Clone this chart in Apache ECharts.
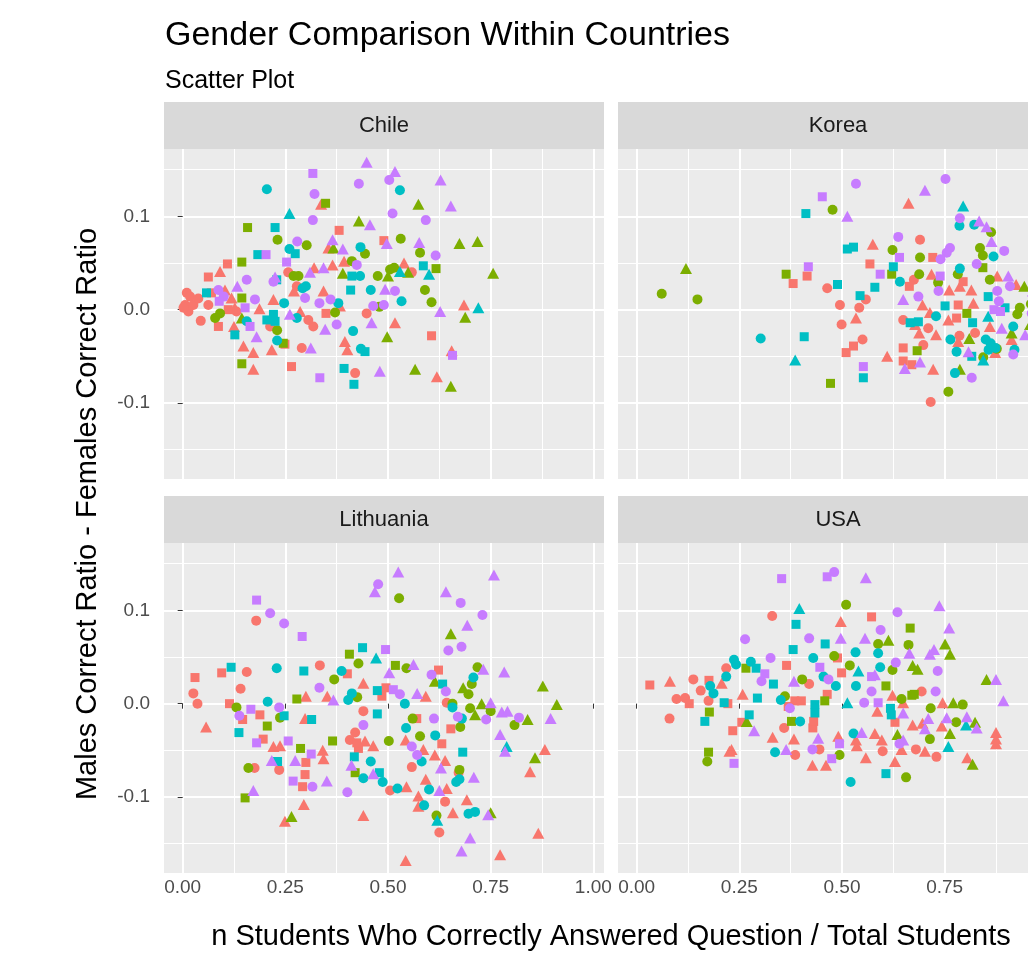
<!DOCTYPE html>
<html>
<head>
<meta charset="utf-8">
<script src="https://cdn.jsdelivr.net/npm/echarts@6/dist/echarts.min.js"></script>
<style>
  html, body { margin: 0; padding: 0; background: #fff; }
  #chart { width: 1028px; height: 955px; }
</style>
</head>
<body>
<div id="chart"></div>
<script>
// facet names
const countries = ['Chile', 'Korea', 'Lithuania', 'USA'];

// ticks
const xMajor = [0, 0.25, 0.5, 0.75, 1];
const xMinor = [0.125, 0.375, 0.625, 0.875];
const yMajor = [-0.1, 0, 0.1];
const yMinor = [-0.15, -0.05, 0.05, 0.15];

// points: [x, y, colour+shape]  colour r/g/b/p, shape c=circle t=triangle s=square
const chile = [
  [0.448,0.158,'pt'],[0.317,0.146,'ps'],[0.205,0.129,'bc'],[0.429,0.135,'pc'],[0.517,0.148,'pt'],[0.503,0.139,'pc'],
  [0.529,0.128,'bc'],[0.628,0.139,'pt'],[0.321,0.124,'pc'],[0.337,0.113,'rt'],[0.348,0.114,'gs'],[0.574,0.113,'gt'],
  [0.653,0.111,'pt'],[0.26,0.103,'bt'],[0.317,0.096,'pc'],[0.429,0.095,'gt'],[0.456,0.091,'pt'],[0.511,0.103,'pc'],
  [0.592,0.096,'pc'],[0.158,0.088,'gs'],[0.225,0.088,'bs'],[0.381,0.085,'rs'],[0.231,0.075,'gc'],[0.279,0.073,'pc'],
  [0.302,0.069,'gc'],[0.49,0.074,'rs'],[0.497,0.071,'pt'],[0.531,0.076,'gc'],[0.576,0.072,'pt'],[0.674,0.071,'gt'],
  [0.718,0.073,'gt'],[0.26,0.065,'bc'],[0.274,0.06,'bs'],[0.355,0.066,'rt'],[0.365,0.075,'pt'],[0.367,0.066,'gt'],
  [0.39,0.065,'pt'],[0.433,0.067,'bc'],[0.444,0.06,'gc'],[0.578,0.061,'gc'],[0.616,0.058,'pc'],[0.183,0.059,'bs'],
  [0.203,0.059,'ps'],[0.144,0.051,'gs'],[0.253,0.051,'ps'],[0.109,0.049,'rs'],[0.091,0.041,'rt'],[0.0625,0.035,'rs'],
  [0.32,0.045,'rt'],[0.31,0.04,'pt'],[0.343,0.045,'pt'],[0.365,0.048,'rt'],[0.393,0.052,'rt'],[0.412,0.052,'gc'],
  [0.424,0.048,'pc'],[0.257,0.04,'rc'],[0.27,0.036,'gc'],[0.282,0.036,'gc'],[0.39,0.039,'gt'],[0.412,0.036,'bs'],
  [0.432,0.036,'bc'],[0.475,0.036,'gc'],[0.5,0.036,'gt'],[0.505,0.043,'gc'],[0.515,0.045,'gc'],[0.539,0.05,'rt'],
  [0.529,0.041,'bt'],[0.549,0.04,'gt'],[0.558,0.04,'rc'],[0.586,0.047,'bs'],[0.6,0.038,'bt'],[0.617,0.044,'gs'],
  [0.756,0.039,'gt'],[0.156,0.032,'pc'],[0.058,0.018,'bs'],[0.01,0.018,'rc'],[0.018,0.014,'rc'],[0.006,0.005,'rc'],
  [0.026,0.005,'rc'],[0.038,0.012,'rc'],[0.014,-0.002,'rc'],[0.002,0.002,'rc'],[0.044,-0.012,'rc'],[0.0625,0.005,'rc'],
  [0.087,0.021,'pc'],[0.1,0.014,'pc'],[0.089,0.009,'ps'],[0.103,0.021,'rt'],[0.119,0.0125,'rt'],[0.133,0.025,'pt'],
  [0.144,0.0125,'gs'],[0.127,0.002,'rt'],[0.152,0.002,'ps'],[0.176,0.011,'pc'],[0.187,0.001,'rt'],[0.221,0.03,'pc'],
  [0.225,0.035,'pt'],[0.229,0.032,'bs'],[0.221,0.011,'rt'],[0.247,0.007,'bc'],[0.271,0.02,'rt'],[0.278,0.025,'rc'],
  [0.292,0.023,'bc'],[0.3,0.025,'bc'],[0.298,0.0125,'pc'],[0.343,0.02,'rt'],[0.333,0.007,'pc'],[0.36,0.011,'pc'],
  [0.379,0.007,'bc'],[0.349,-0.004,'rs'],[0.371,-0.003,'gc'],[0.383,0.004,'rt'],[0.409,0.021,'bs'],[0.458,0.021,'bc'],
  [0.493,0.022,'pt'],[0.517,0.02,'pc'],[0.533,0.009,'bc'],[0.464,0.004,'pc'],[0.479,0.003,'gc'],[0.49,0.005,'pc'],
  [0.448,-0.004,'rc'],[0.59,0.021,'gc'],[0.606,0.008,'gc'],[0.627,-0.002,'pt'],[0.685,0.005,'rt'],[0.72,0.002,'bt'],
  [0.688,-0.008,'gt'],[0.46,-0.014,'pt'],[0.517,-0.014,'rt'],[0.498,-0.029,'gt'],[0.606,-0.028,'rs'],[0.657,-0.049,'ps'],
  [0.655,-0.044,'rt'],[0.566,-0.064,'gt'],[0.619,-0.072,'rt'],[0.653,-0.082,'gt'],[0.48,-0.066,'pt'],[0.42,-0.068,'rc'],
  [0.393,-0.063,'bs'],[0.417,-0.08,'bs'],[0.334,-0.073,'ps'],[0.265,-0.061,'rs'],[0.144,-0.058,'gs'],[0.172,-0.064,'rt'],
  [0.148,-0.039,'rt'],[0.172,-0.046,'rt'],[0.217,-0.043,'rt'],[0.29,-0.041,'rc'],[0.312,-0.041,'pt'],[0.245,-0.036,'gs'],
  [0.249,-0.037,'rs'],[0.23,-0.033,'bc'],[0.23,-0.022,'gc'],[0.395,-0.034,'rt'],[0.401,-0.043,'rt'],[0.434,-0.042,'bc'],
  [0.444,-0.045,'bs'],[0.415,-0.023,'bc'],[0.347,-0.021,'pt'],[0.375,-0.016,'pc'],[0.318,-0.018,'rc'],[0.286,-0.002,'rt'],
  [0.278,-0.009,'bc'],[0.261,-0.005,'pt'],[0.306,-0.011,'rc'],[0.221,-0.005,'bs'],[0.205,-0.011,'bs'],[0.225,-0.0125,'bs'],
  [0.213,-0.018,'rc'],[0.18,-0.029,'pt'],[0.164,-0.018,'ps'],[0.156,-0.0125,'bc'],[0.127,-0.027,'bs'],[0.125,-0.018,'rt'],
  [0.087,-0.018,'rs'],[0.079,-0.009,'gc'],[0.091,-0.004,'gc'],[0.144,-0.009,'gt'],[0.131,-0.002,'rc'],[0.111,0.0,'rs'],
  [0.07,0.018,'rs']
];

const korea = [
  [0.061,0.017,'gc'],[0.12,0.044,'gt'],[0.148,0.011,'gc'],[0.302,-0.031,'bc'],[0.408,-0.029,'bs'],[0.386,-0.054,'bt'],
  [0.472,-0.079,'gs'],[0.552,-0.061,'ps'],[0.552,-0.073,'bs'],[0.412,0.103,'bs'],[0.452,0.121,'ps'],[0.477,0.107,'gc'],
  [0.534,0.135,'pc'],[0.513,0.1,'pt'],[0.662,0.114,'rt'],[0.702,0.128,'pt'],[0.752,0.14,'pc'],[0.795,0.111,'bt'],
  [0.787,0.098,'pc'],[0.786,0.09,'bc'],[0.822,0.091,'bc'],[0.834,0.095,'pt'],[0.852,0.089,'pt'],[0.863,0.083,'gc'],
  [0.864,0.073,'pt'],[0.895,0.063,'pc'],[0.836,0.066,'gc'],[0.843,0.058,'gc'],[0.869,0.057,'bc'],[0.513,0.065,'bs'],
  [0.528,0.067,'bs'],[0.575,0.07,'rt'],[0.637,0.078,'pc'],[0.69,0.075,'rc'],[0.623,0.064,'gc'],[0.64,0.056,'ps'],
  [0.69,0.056,'gc'],[0.721,0.056,'rs'],[0.763,0.066,'pc'],[0.755,0.061,'pc'],[0.74,0.054,'pc'],[0.828,0.049,'pc'],
  [0.843,0.045,'gs'],[0.787,0.044,'bc'],[0.782,0.038,'gc'],[0.418,0.046,'ps'],[0.415,0.036,'rs'],[0.364,0.038,'gs'],
  [0.381,0.028,'rs'],[0.568,0.049,'rs'],[0.489,0.027,'bs'],[0.464,0.023,'rc'],[0.544,0.015,'bs'],[0.558,0.011,'rc'],
  [0.495,0.005,'rc'],[0.542,0.002,'rc'],[0.534,-0.009,'rt'],[0.499,-0.016,'rc'],[0.55,-0.032,'rc'],[0.528,-0.039,'rs'],
  [0.51,-0.046,'rs'],[0.58,0.024,'bs'],[0.593,0.038,'ps'],[0.621,0.038,'gs'],[0.625,0.046,'bs'],[0.641,0.03,'bc'],
  [0.664,0.025,'rs'],[0.675,0.032,'rc'],[0.688,0.038,'gc'],[0.686,0.014,'pc'],[0.649,0.011,'pt'],[0.696,0.005,'rt'],
  [0.714,-0.003,'rt'],[0.718,0.038,'rt'],[0.734,0.029,'gc'],[0.739,0.036,'ps'],[0.735,0.02,'pc'],[0.761,0.021,'rt'],
  [0.795,0.03,'rs'],[0.815,0.021,'rt'],[0.783,0.005,'rs'],[0.82,0.007,'rt'],[0.751,0.004,'bs'],[0.729,-0.007,'bc'],
  [0.759,-0.011,'rt'],[0.779,-0.009,'rs'],[0.804,-0.004,'gs'],[0.818,-0.014,'bs'],[0.824,-0.025,'rc'],[0.856,-0.007,'bt'],
  [0.87,0.0,'ps'],[0.882,0.009,'pc'],[0.886,-0.002,'ps'],[0.878,0.02,'pc'],[0.856,0.014,'bs'],[0.878,0.036,'rt'],
  [0.905,0.036,'pt'],[0.924,0.027,'rt'],[0.944,0.025,'gt'],[0.909,0.025,'pc'],[0.933,0.002,'gc'],[0.897,0.002,'bs'],
  [0.927,-0.005,'gc'],[0.86,-0.018,'rt'],[0.889,-0.02,'pt'],[0.917,-0.018,'bc'],[0.913,-0.025,'gt'],[0.946,-0.027,'pt'],
  [0.913,-0.032,'rt'],[0.92,-0.043,'bc'],[0.917,-0.048,'pc'],[0.85,-0.032,'bc'],[0.862,-0.036,'bc'],[0.874,-0.041,'bc'],
  [0.857,-0.043,'bc'],[0.877,-0.042,'gc'],[0.873,-0.046,'rt'],[0.844,-0.051,'gc'],[0.844,-0.054,'bt'],[0.808,-0.045,'pt'],
  [0.816,-0.05,'bs'],[0.81,-0.031,'gt'],[0.779,-0.045,'bc'],[0.764,-0.032,'bc'],[0.783,-0.034,'rt'],[0.787,-0.064,'gt'],
  [0.775,-0.068,'bc'],[0.816,-0.073,'pc'],[0.759,-0.088,'gc'],[0.716,-0.099,'rc'],[0.722,-0.064,'rt'],[0.69,-0.056,'pt'],
  [0.67,-0.059,'rs'],[0.649,-0.055,'rs'],[0.653,-0.063,'pt'],[0.649,-0.041,'rs'],[0.683,-0.044,'gs'],[0.698,-0.038,'rc'],
  [0.61,-0.05,'rt'],[0.688,-0.025,'rt'],[0.729,-0.027,'rt'],[0.71,-0.02,'rc'],[0.666,-0.014,'bs'],[0.686,-0.013,'bs'],
  [0.649,-0.011,'rc'],[0.678,-0.016,'rt'],[0.786,-0.028,'rc'],[0.787,0.025,'rt'],[0.86,0.032,'gc'],[0.96,0.006,'gc'],
  [0.962,-0.004,'pc'],[0.958,-0.016,'gt'],[0.965,0.02,'pt']
];

const lithuania = [
  [0.525,0.141,'pt'],[0.758,0.138,'pt'],[0.468,0.12,'pt'],[0.476,0.128,'pc'],[0.527,0.113,'gc'],[0.641,0.12,'pt'],
  [0.677,0.108,'pc'],[0.18,0.111,'ps'],[0.213,0.097,'pc'],[0.179,0.089,'rc'],[0.247,0.086,'pc'],[0.73,0.095,'pc'],
  [0.693,0.084,'pt'],[0.653,0.075,'gt'],[0.291,0.072,'ps'],[0.647,0.057,'pc'],[0.679,0.061,'pc'],[0.438,0.06,'bs'],
  [0.494,0.058,'ps'],[0.406,0.053,'gs'],[0.471,0.049,'bt'],[0.428,0.043,'gc'],[0.518,0.041,'gs'],[0.545,0.038,'gc'],
  [0.562,0.042,'pt'],[0.623,0.036,'rs'],[0.606,0.031,'pc'],[0.718,0.039,'gc'],[0.732,0.037,'pt'],[0.783,0.034,'pt'],
  [0.03,0.028,'rs'],[0.095,0.033,'rs'],[0.118,0.039,'bs'],[0.156,0.034,'rc'],[0.229,0.038,'bc'],[0.295,0.035,'bs'],
  [0.334,0.041,'rc'],[0.387,0.035,'bc'],[0.401,0.032,'rs'],[0.369,0.026,'gc'],[0.44,0.022,'rt'],[0.474,0.014,'bs'],
  [0.495,0.017,'rs'],[0.485,0.008,'rs'],[0.503,0.033,'pt'],[0.513,0.015,'ps'],[0.529,0.01,'pc'],[0.541,0.0,'bc'],
  [0.571,0.011,'pt'],[0.592,0.008,'rt'],[0.614,0.024,'gt'],[0.633,0.021,'bs'],[0.641,0.013,'pc'],[0.643,0.001,'rc'],
  [0.657,0.0,'gc'],[0.657,-0.004,'bc'],[0.683,0.017,'gt'],[0.696,0.01,'gc'],[0.708,0.028,'bc'],[0.704,0.021,'gc'],
  [0.728,0.0,'gt'],[0.7,-0.005,'gc'],[0.712,-0.012,'gt'],[0.75,0.001,'pt'],[0.75,-0.008,'gc'],[0.739,-0.017,'pc'],
  [0.777,-0.009,'pt'],[0.791,-0.008,'pt'],[0.819,-0.015,'pc'],[0.808,-0.023,'gc'],[0.84,-0.017,'gt'],[0.877,0.019,'gt'],
  [0.911,-0.001,'gt'],[0.896,-0.016,'pt'],[0.773,-0.033,'pt'],[0.789,-0.046,'bt'],[0.785,-0.051,'pt'],[0.882,-0.049,'rt'],
  [0.858,-0.058,'gt'],[0.846,-0.073,'rt'],[0.866,-0.139,'rt'],[0.773,-0.162,'rt'],[0.543,-0.168,'rt'],[0.7,-0.144,'pt'],
  [0.679,-0.158,'pt'],[0.625,-0.138,'rc'],[0.639,-0.105,'rc'],[0.658,-0.117,'rt'],[0.692,-0.103,'rt'],[0.696,-0.118,'bc'],
  [0.712,-0.116,'bc'],[0.744,-0.119,'pt'],[0.75,-0.117,'gt'],[0.62,-0.125,'bt'],[0.618,-0.12,'gc'],[0.574,-0.11,'rt'],
  [0.588,-0.109,'bc'],[0.574,-0.099,'rt'],[0.6,-0.092,'bc'],[0.625,-0.093,'pt'],[0.643,-0.091,'rt'],[0.592,-0.081,'rt'],
  [0.666,-0.084,'bc'],[0.674,-0.081,'bc'],[0.709,-0.079,'pt'],[0.674,-0.071,'gc'],[0.672,-0.074,'rc'],[0.629,-0.069,'pt'],
  [0.639,-0.061,'rt'],[0.614,-0.055,'rt'],[0.582,-0.062,'bc'],[0.571,-0.055,'pc'],[0.558,-0.068,'rc'],[0.586,-0.049,'rt'],
  [0.558,-0.046,'pc'],[0.631,-0.043,'rs'],[0.615,-0.034,'bc'],[0.578,-0.035,'gc'],[0.544,-0.026,'bc'],[0.543,-0.039,'rt'],
  [0.653,-0.027,'rs'],[0.682,-0.052,'bs'],[0.67,-0.014,'pc'],[0.68,-0.016,'bc'],[0.676,-0.025,'gc'],[0.57,-0.016,'rs'],
  [0.56,-0.016,'gc'],[0.612,-0.016,'pc'],[0.545,-0.089,'rt'],[0.523,-0.091,'bc'],[0.505,-0.093,'rc'],[0.487,-0.084,'bc'],
  [0.479,-0.074,'bs'],[0.464,-0.075,'pt'],[0.458,-0.062,'bc'],[0.44,-0.08,'bc'],[0.44,-0.12,'rt'],[0.401,-0.095,'pc'],
  [0.411,-0.066,'pt'],[0.418,-0.057,'bs'],[0.42,-0.074,'gs'],[0.407,-0.039,'rc'],[0.42,-0.031,'rc'],[0.44,-0.008,'rc'],
  [0.428,-0.048,'rs'],[0.424,-0.042,'rs'],[0.444,-0.04,'rt'],[0.464,-0.045,'rt'],[0.44,-0.023,'pc'],[0.474,-0.011,'bs'],
  [0.502,-0.04,'gc'],[0.403,0.004,'bc'],[0.412,0.011,'bc'],[0.425,0.007,'gc'],[0.333,0.017,'pc'],[0.352,0.008,'rt'],
  [0.367,0.004,'pt'],[0.207,0.002,'bc'],[0.278,0.005,'gs'],[0.3,0.008,'rt'],[0.235,-0.004,'pc'],[0.247,-0.013,'bs'],
  [0.237,-0.015,'gc'],[0.298,-0.016,'rt'],[0.314,-0.017,'bs'],[0.114,0.0,'rs'],[0.131,-0.004,'gc'],[0.166,-0.006,'ps'],
  [0.138,-0.013,'pc'],[0.146,-0.017,'rs'],[0.188,-0.012,'rs'],[0.026,0.011,'rc'],[0.036,0.0,'rc'],[0.141,0.016,'rc'],
  [0.057,-0.025,'rt'],[0.137,-0.031,'bs'],[0.206,-0.024,'gs'],[0.196,-0.038,'rs'],[0.18,-0.042,'ps'],[0.221,-0.046,'rt'],
  [0.237,-0.045,'rt'],[0.257,-0.04,'ps'],[0.287,-0.048,'gs'],[0.313,-0.054,'ps'],[0.341,-0.05,'rt'],[0.343,-0.059,'rt'],
  [0.365,-0.04,'gs'],[0.3,-0.063,'rs'],[0.298,-0.076,'rs'],[0.292,-0.089,'rs'],[0.316,-0.089,'pc'],[0.269,-0.083,'ps'],
  [0.351,-0.083,'pt'],[0.274,-0.061,'pt'],[0.217,-0.061,'pt'],[0.231,-0.062,'bs'],[0.235,-0.071,'rc'],[0.16,-0.069,'gc'],
  [0.175,-0.069,'rc'],[0.172,-0.093,'pt'],[0.152,-0.101,'gs'],[0.295,-0.108,'rt'],[0.249,-0.126,'rt'],[0.265,-0.121,'gt']
];

const usa = [
  [0.353,0.134,'ps'],[0.464,0.136,'ps'],[0.481,0.141,'pc'],[0.558,0.135,'pt'],[0.51,0.106,'gc'],[0.737,0.105,'pt'],
  [0.396,0.102,'bt'],[0.33,0.094,'rc'],[0.388,0.085,'bs'],[0.497,0.088,'rt'],[0.572,0.093,'rs'],[0.635,0.098,'pc'],
  [0.666,0.081,'gs'],[0.761,0.081,'pt'],[0.594,0.079,'pc'],[0.264,0.069,'pc'],[0.42,0.07,'pc'],[0.497,0.07,'pt'],
  [0.556,0.07,'pt'],[0.588,0.064,'gc'],[0.613,0.068,'gt'],[0.662,0.063,'gc'],[0.751,0.064,'gt'],[0.763,0.053,'gt'],
  [0.459,0.064,'bs'],[0.381,0.058,'bs'],[0.43,0.049,'bc'],[0.481,0.051,'gc'],[0.489,0.049,'rs'],[0.533,0.055,'bc'],
  [0.588,0.054,'bc'],[0.664,0.054,'pt'],[0.714,0.053,'pt'],[0.724,0.058,'pt'],[0.631,0.044,'pc'],[0.326,0.049,'pc'],
  [0.237,0.047,'bc'],[0.242,0.042,'bc'],[0.278,0.045,'bc'],[0.266,0.038,'gs'],[0.291,0.038,'bs'],[0.218,0.038,'rc'],
  [0.365,0.041,'rs'],[0.446,0.039,'ps'],[0.519,0.041,'gc'],[0.54,0.035,'bt'],[0.593,0.039,'bc'],[0.623,0.036,'gc'],
  [0.672,0.041,'gt'],[0.684,0.037,'gt'],[0.733,0.035,'pc'],[0.312,0.032,'ps'],[0.304,0.024,'pc'],[0.333,0.021,'bs'],
  [0.499,0.033,'rs'],[0.455,0.029,'bc'],[0.467,0.026,'pc'],[0.572,0.029,'ps'],[0.58,0.031,'pt'],[0.403,0.026,'gc'],
  [0.383,0.024,'pt'],[0.42,0.021,'rc'],[0.485,0.019,'bc'],[0.534,0.019,'bc'],[0.607,0.019,'gs'],[0.572,0.013,'pc'],
  [0.694,0.013,'rc'],[0.728,0.013,'pc'],[0.852,0.026,'gt'],[0.875,0.026,'pt'],[0.893,0.003,'pt'],[0.645,0.005,'gc'],
  [0.67,0.009,'gs'],[0.676,0.01,'gs'],[0.623,0.009,'rt'],[0.649,0.001,'rt'],[0.745,0.001,'rt'],[0.771,0.001,'gt'],
  [0.794,-0.001,'gc'],[0.716,-0.005,'gc'],[0.081,0.024,'rt'],[0.032,0.02,'rs'],[0.138,0.026,'rc'],[0.176,0.025,'rs'],
  [0.097,0.005,'rc'],[0.118,0.006,'rc'],[0.128,0.0,'rs'],[0.156,0.014,'rc'],[0.179,0.019,'bc'],[0.187,0.011,'bc'],
  [0.175,0.003,'rc'],[0.218,0.029,'bc'],[0.207,0.022,'rt'],[0.258,0.01,'rt'],[0.213,0.001,'bs'],[0.222,0.0,'rs'],
  [0.294,0.006,'bs'],[0.08,-0.016,'rc'],[0.177,-0.009,'gs'],[0.166,-0.019,'bs'],[0.274,-0.012,'bs'],[0.268,-0.019,'gt'],
  [0.256,-0.02,'rs'],[0.234,-0.029,'rs'],[0.286,-0.029,'pt'],[0.331,-0.036,'rt'],[0.383,-0.038,'rt'],[0.351,0.004,'bc'],
  [0.361,0.008,'gc'],[0.369,-0.003,'rs'],[0.385,0.003,'rs'],[0.401,0.003,'rs'],[0.373,-0.005,'pc'],[0.377,-0.019,'gs'],
  [0.398,-0.019,'bc'],[0.359,-0.026,'rc'],[0.386,-0.055,'rc'],[0.337,-0.052,'bc'],[0.364,-0.049,'pt'],[0.226,-0.051,'rt'],
  [0.231,-0.049,'rt'],[0.175,-0.052,'gs'],[0.172,-0.062,'gc'],[0.237,-0.064,'ps'],[0.434,-0.001,'bs'],[0.434,-0.01,'bs'],
  [0.429,-0.026,'rs'],[0.431,-0.019,'rs'],[0.442,-0.037,'pt'],[0.445,-0.049,'rc'],[0.428,-0.049,'pc'],[0.428,-0.066,'rt'],
  [0.461,-0.066,'rt'],[0.475,-0.059,'ps'],[0.494,-0.055,'gc'],[0.491,-0.035,'rt'],[0.494,-0.043,'ps'],[0.464,0.01,'rs'],
  [0.458,0.003,'gs'],[0.513,0.001,'bt'],[0.528,-0.032,'bc'],[0.548,-0.031,'pt'],[0.534,-0.039,'rt'],[0.536,-0.045,'rt'],
  [0.58,-0.032,'rt'],[0.597,-0.039,'rt'],[0.599,-0.051,'rc'],[0.558,-0.058,'rt'],[0.521,-0.084,'bc'],[0.554,0.001,'pc'],
  [0.588,0.001,'ps'],[0.586,-0.008,'rt'],[0.618,-0.005,'bs'],[0.62,-0.012,'bs'],[0.629,-0.02,'rs'],[0.649,-0.01,'pt'],
  [0.635,-0.033,'gt'],[0.649,-0.039,'pt'],[0.64,-0.043,'pc'],[0.645,-0.049,'rt'],[0.629,-0.062,'rt'],[0.607,-0.075,'bs'],
  [0.656,-0.079,'gc'],[0.672,-0.023,'rt'],[0.696,-0.021,'rt'],[0.702,-0.027,'pt'],[0.71,-0.016,'pt'],[0.714,-0.038,'gc'],
  [0.68,-0.049,'rc'],[0.702,-0.051,'rt'],[0.73,-0.057,'rc'],[0.743,-0.024,'rt'],[0.763,-0.032,'gt'],[0.759,-0.046,'bt'],
  [0.755,-0.015,'pt'],[0.778,-0.02,'gc'],[0.804,-0.014,'pt'],[0.802,-0.023,'bt'],[0.824,-0.02,'gt'],[0.828,-0.026,'pt'],
  [0.875,-0.031,'rt'],[0.875,-0.038,'rt'],[0.875,-0.043,'rt'],[0.805,-0.058,'rt'],[0.818,-0.065,'gt']
];

const pointsByCountry = [chile, korea, lithuania, usa];

const colours = { r: '#F8766D', g: '#7CAE00', b: '#00BFC4', p: '#C77CFF' };
const shapes = { c: 'circle', t: 'triangle', s: 'rect' };
const shapeSize = { c: 10, t: [12, 11], s: 9 };

// panel layout (pixels); the right column runs past the page edge
const X_MIN = -0.0455, X_MAX = 1.026;
const Y_MIN = -0.1815, Y_MAX = 0.1722;
const panelW = 440, panelH = 330;
const panelPos = [[164, 149], [618, 149], [164, 543], [618, 543]];
const stripH = 47;

const tickColor = '#333333';
const labelColor = '#4D4D4D';
const font = 'Liberation Sans';

const grids = panelPos.map(([l, t]) => ({
  left: l, top: t, width: panelW, height: panelH,
  outerBoundsMode: 'none', containLabel: false,
  show: true, backgroundColor: '#EBEBEB', borderWidth: 0
}));

const xAxes = [];
const yAxes = [];
panelPos.forEach((pos, i) => {
  const bottomRow = i >= 2;
  const leftCol = i % 2 === 0;
  xAxes.push({
    type: 'value', gridIndex: i, min: X_MIN, max: X_MAX, position: 'bottom',
    axisLine: { show: false },
    axisTick: { show: bottomRow, length: 5, customValues: xMajor, lineStyle: { color: tickColor, width: 1 } },
    axisLabel: {
      show: bottomRow, customValues: xMajor, margin: 5, hideOverlap: false,
      formatter: (v) => v.toFixed(2), color: labelColor, fontSize: 19, fontFamily: font
    },
    splitLine: { show: true, lineStyle: { color: '#FFFFFF', width: 2 } }
  });
  xAxes.push({
    type: 'value', gridIndex: i, min: X_MIN, max: X_MAX, position: 'bottom',
    axisLine: { show: false },
    axisTick: { show: false, customValues: xMinor },
    axisLabel: { show: false, customValues: xMinor },
    splitLine: { show: true, lineStyle: { color: '#FFFFFF', width: 1 } }
  });
  yAxes.push({
    type: 'value', gridIndex: i, min: Y_MIN, max: Y_MAX, position: 'left',
    axisLine: { show: false },
    axisTick: { show: leftCol, length: 5, customValues: yMajor, lineStyle: { color: tickColor, width: 1 } },
    axisLabel: {
      show: leftCol, customValues: yMajor, margin: 14,
      formatter: (v) => v.toFixed(1), color: labelColor, fontSize: 19, fontFamily: font
    },
    splitLine: { show: true, lineStyle: { color: '#FFFFFF', width: 2 } }
  });
  yAxes.push({
    type: 'value', gridIndex: i, min: Y_MIN, max: Y_MAX, position: 'left',
    axisLine: { show: false },
    axisTick: { show: false, customValues: yMinor },
    axisLabel: { show: false, customValues: yMinor },
    splitLine: { show: true, lineStyle: { color: '#FFFFFF', width: 1 } }
  });
});

const series = [];
pointsByCountry.forEach((pts, i) => {
  Object.keys(colours).forEach((ck) => {
    Object.keys(shapes).forEach((sk) => {
      const data = pts.filter((p) => p[2] === ck + sk).map((p) => [p[0], p[1]]);
      if (!data.length) return;
      series.push({
        type: 'scatter', xAxisIndex: 2 * i, yAxisIndex: 2 * i,
        data: data, symbol: shapes[sk], symbolSize: shapeSize[sk],
        itemStyle: { color: colours[ck], opacity: 1 },
        emphasis: { disabled: true }
      });
    });
  });
});

// strips, titles
const graphics = [];
panelPos.forEach(([l, t], i) => {
  graphics.push({
    type: 'rect', shape: { x: l, y: t - stripH, width: panelW, height: stripH },
    style: { fill: '#D9D9D9' }, silent: true
  });
  graphics.push({
    type: 'text', x: l + panelW / 2, y: t - stripH / 2,
    style: { text: countries[i], fill: '#1A1A1A', font: '22px "Liberation Sans"', textAlign: 'center', textVerticalAlign: 'middle' },
    silent: true
  });
});
graphics.push({
  type: 'text', x: 165, y: 36,
  style: { text: 'Gender Comparison Within Countries', fill: '#000', font: '34px "Liberation Sans"', textAlign: 'left', textVerticalAlign: 'middle' }
});
graphics.push({
  type: 'text', x: 165, y: 81,
  style: { text: 'Scatter Plot', fill: '#000', font: '25px "Liberation Sans"', textAlign: 'left', textVerticalAlign: 'middle' }
});
graphics.push({
  type: 'text', x: 611, y: 937,
  style: { text: 'n Students Who Correctly Answered Question / Total Students', fill: '#000', font: '29px "Liberation Sans"', textAlign: 'center', textVerticalAlign: 'middle' }
});
graphics.push({
  type: 'text', x: 88, y: 514, rotation: Math.PI / 2,
  style: { text: 'Males Correct Ratio - Females Correct Ratio', fill: '#000', font: '29px "Liberation Sans"', textAlign: 'center', textVerticalAlign: 'middle' }
});

const chart = echarts.init(document.getElementById('chart'));
chart.setOption({
  animation: false,
  backgroundColor: '#FFFFFF',
  grid: grids,
  xAxis: xAxes,
  yAxis: yAxes,
  series: series,
  graphic: graphics
});
</script>
</body>
</html>
